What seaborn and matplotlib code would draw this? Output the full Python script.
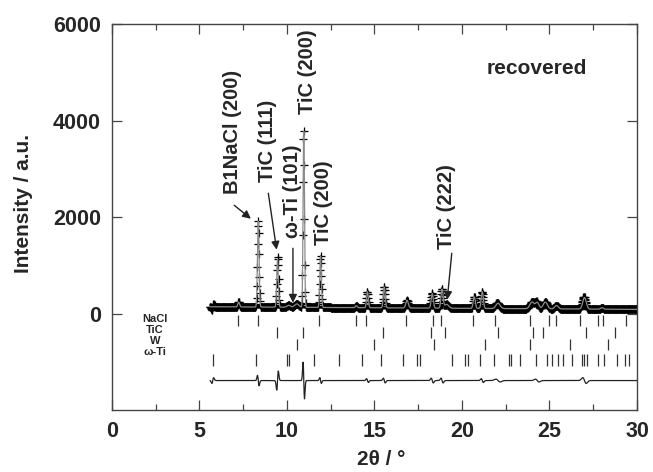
import numpy as np
import pandas as pd
import matplotlib
matplotlib.use("Agg")
import matplotlib.pyplot as plt
from matplotlib.ticker import MultipleLocator, FixedLocator
import seaborn as sns

peak_pos = [7.24, 8.36, 9.46, 10.1, 10.56, 10.96, 11.92, 13.96, 14.6, 15.56, 16.86, 18.3, 18.86, 19.12,
            20.7, 21.16, 22.06, 24.0, 24.3, 24.76, 25.4, 27.0, 28.0]
peak_height = [100, 1780, 1000, 40, 70, 3650, 1060, 40, 330, 430, 160, 300, 390, 80,
               240, 345, 110, 140, 130, 140, 70, 240, 30]
peak_width = [0.05, 0.045, 0.045, 0.1, 0.12, 0.04, 0.045, 0.05, 0.05, 0.055, 0.07, 0.06, 0.06, 0.12,
              0.06, 0.06, 0.12, 0.12, 0.1, 0.12, 0.1, 0.1, 0.08]
background_ends = [140, 85]
two_theta_range = [5.6, 30.0]

# Misfit features of the difference curve (position, amplitude)
res_pos = [5.76, 8.36, 9.46, 10.96, 11.92, 14.6, 15.56, 18.3, 18.86, 21.16, 22.06, 24.3, 27.0]
res_amp = [-60, 110, -200, 380, 60, 40, 50, 50, 50, 40, 30, 30, 60]
diff_offset = -1390

# Bragg reflection markers for each phase
nacl_ticks = [7.21, 8.34, 11.83, 13.94, 14.53, 16.80, 18.33, 18.80, 20.63, 21.89, 23.89, 24.97,
              25.37, 26.74, 27.77, 28.06, 29.37]
tic_ticks = [9.43, 10.91, 15.49, 18.23, 19.03, 22.06, 24.06, 24.63, 27.09, 28.74]
w_ticks = [10.57, 14.97, 18.40, 21.31, 23.89, 26.17, 28.34]
omega_ti_ticks = [5.77, 8.23, 10.0, 10.11, 11.54, 12.97, 14.29, 15.37, 16.63, 17.43, 17.6, 19.43,
                  20.17, 20.34, 21.03, 21.83, 22.69, 22.80, 23.31, 24.23, 24.86, 25.14, 25.49, 25.77,
                  26.29, 26.86, 26.97, 27.14, 27.77, 28.11, 28.86, 29.31, 29.54]
phase_names = ["NaCl", "TiC", "W", "ω-Ti"]
y_tick_values = [0, 2000, 4000, 6000]

# build the pattern from the peak list
tt = np.arange(two_theta_range[0], two_theta_range[1] + 1e-9, 0.02)
bg = np.linspace(background_ends[0], background_ends[1], len(tt))
calc = bg.copy()
for p, h, w in zip(peak_pos, peak_height, peak_width):
    calc += h * np.exp(-0.5 * ((tt - p) / w) ** 2)
resid = np.zeros_like(tt)
for p, a in zip(res_pos, res_amp):
    w = peak_width[int(np.argmin(np.abs(np.array(peak_pos) - p)))]
    u = (tt - p) / w
    resid += a * (-u) * np.exp(-0.5 * u ** 2) / np.exp(-0.5)
obs = calc + resid

df = pd.DataFrame({"tt": tt, "obs": obs, "calc": calc, "diff": obs - calc + diff_offset})

sns.set_style("ticks")
plt.rcParams["font.family"] = ["Liberation Sans", "DejaVu Sans"]
plt.rcParams["font.weight"] = "bold"

fig, ax = plt.subplots(figsize=(6.53, 4.72), dpi=100)
fig.subplots_adjust(left=0.1715, right=0.9755, top=0.949, bottom=0.1314)

sns.scatterplot(data=df, x="tt", y="obs", marker="+", s=26, color="black", linewidth=0.9, ax=ax, zorder=2)
sns.lineplot(data=df, x="tt", y="calc", color="#8a8a8a", linewidth=0.9, estimator=None, sort=False, ax=ax, zorder=3)
sns.lineplot(data=df, x="tt", y="diff", color="#222222", linewidth=0.9, estimator=None, sort=False, ax=ax, zorder=3)

rows = [(-40, -260), (-290, -510), (-530, -760), (-830, -1080)]
for ticks, (y0, y1) in zip([nacl_ticks, tic_ticks, w_ticks, omega_ti_ticks], rows):
    ax.vlines(ticks, y1, y0, color="#333333", linewidth=0.9)

label_y = [-104, -332, -570, -808]
for name, yy in zip(phase_names, label_y):
    ax.text(2.46, yy, name, ha="center", va="center", fontsize=8, fontweight="bold")

ax.set_xlim(0, 30)
ax.set_ylim(-2000, 6000)
ax.xaxis.set_major_locator(MultipleLocator(5))
ax.xaxis.set_minor_locator(MultipleLocator(2.5))
ax.yaxis.set_major_locator(FixedLocator(y_tick_values))
ax.tick_params(which="both", direction="in", top=True, right=True, color="#444444")
ax.tick_params(which="major", length=7, width=0.9, labelsize=15.5, pad=8)
ax.tick_params(which="minor", length=4, width=0.9)
for lab in ax.get_xticklabels() + ax.get_yticklabels():
    lab.set_fontweight("bold")
for s in ax.spines.values():
    s.set_color("#444444")
    s.set_linewidth(1.0)

ax.set_xlabel("2θ / °", fontsize=15, fontweight="bold")
ax.set_ylabel("Intensity / a.u.", fontsize=15, fontweight="bold")
ax.xaxis.set_label_coords(0.512, -0.104)
ax.yaxis.set_label_coords(-0.150, 0.536)

ax.text(24.3, 5080, "recovered", ha="center", va="center", fontsize=15, fontweight="bold")

arrow = dict(arrowstyle="-|>", color="#222222", lw=1.0, mutation_scale=12)
ax.text(6.86, 3763, "B1NaCl (200)", rotation=90, ha="center", va="center", fontsize=14.5, fontweight="bold")
ax.annotate("", xy=(8.06, 1928), xytext=(6.86, 2280), arrowprops=arrow)
ax.text(8.91, 3586, "TiC (111)", rotation=90, ha="center", va="center", fontsize=14.5, fontweight="bold")
ax.annotate("", xy=(9.43, 1265), xytext=(8.91, 2550), arrowprops=arrow)
ax.text(10.29, 2529, "ω-Ti (101)", rotation=90, ha="center", va="center", fontsize=14.5, fontweight="bold")
ax.annotate("", xy=(10.34, 166), xytext=(10.34, 1410), arrowprops=arrow)
ax.text(11.2, 5006, "TiC (200)", rotation=90, ha="center", va="center", fontsize=14.5, fontweight="bold")
ax.text(12.06, 2301, "TiC (200)", rotation=90, ha="center", va="center", fontsize=14.5, fontweight="bold")
ax.text(19.09, 2218, "TiC (222)", rotation=90, ha="center", va="center", fontsize=14.5, fontweight="bold")
ax.annotate("", xy=(19.14, 228), xytext=(19.43, 1306), arrowprops=arrow)

fig.savefig("out.png", dpi=100)
